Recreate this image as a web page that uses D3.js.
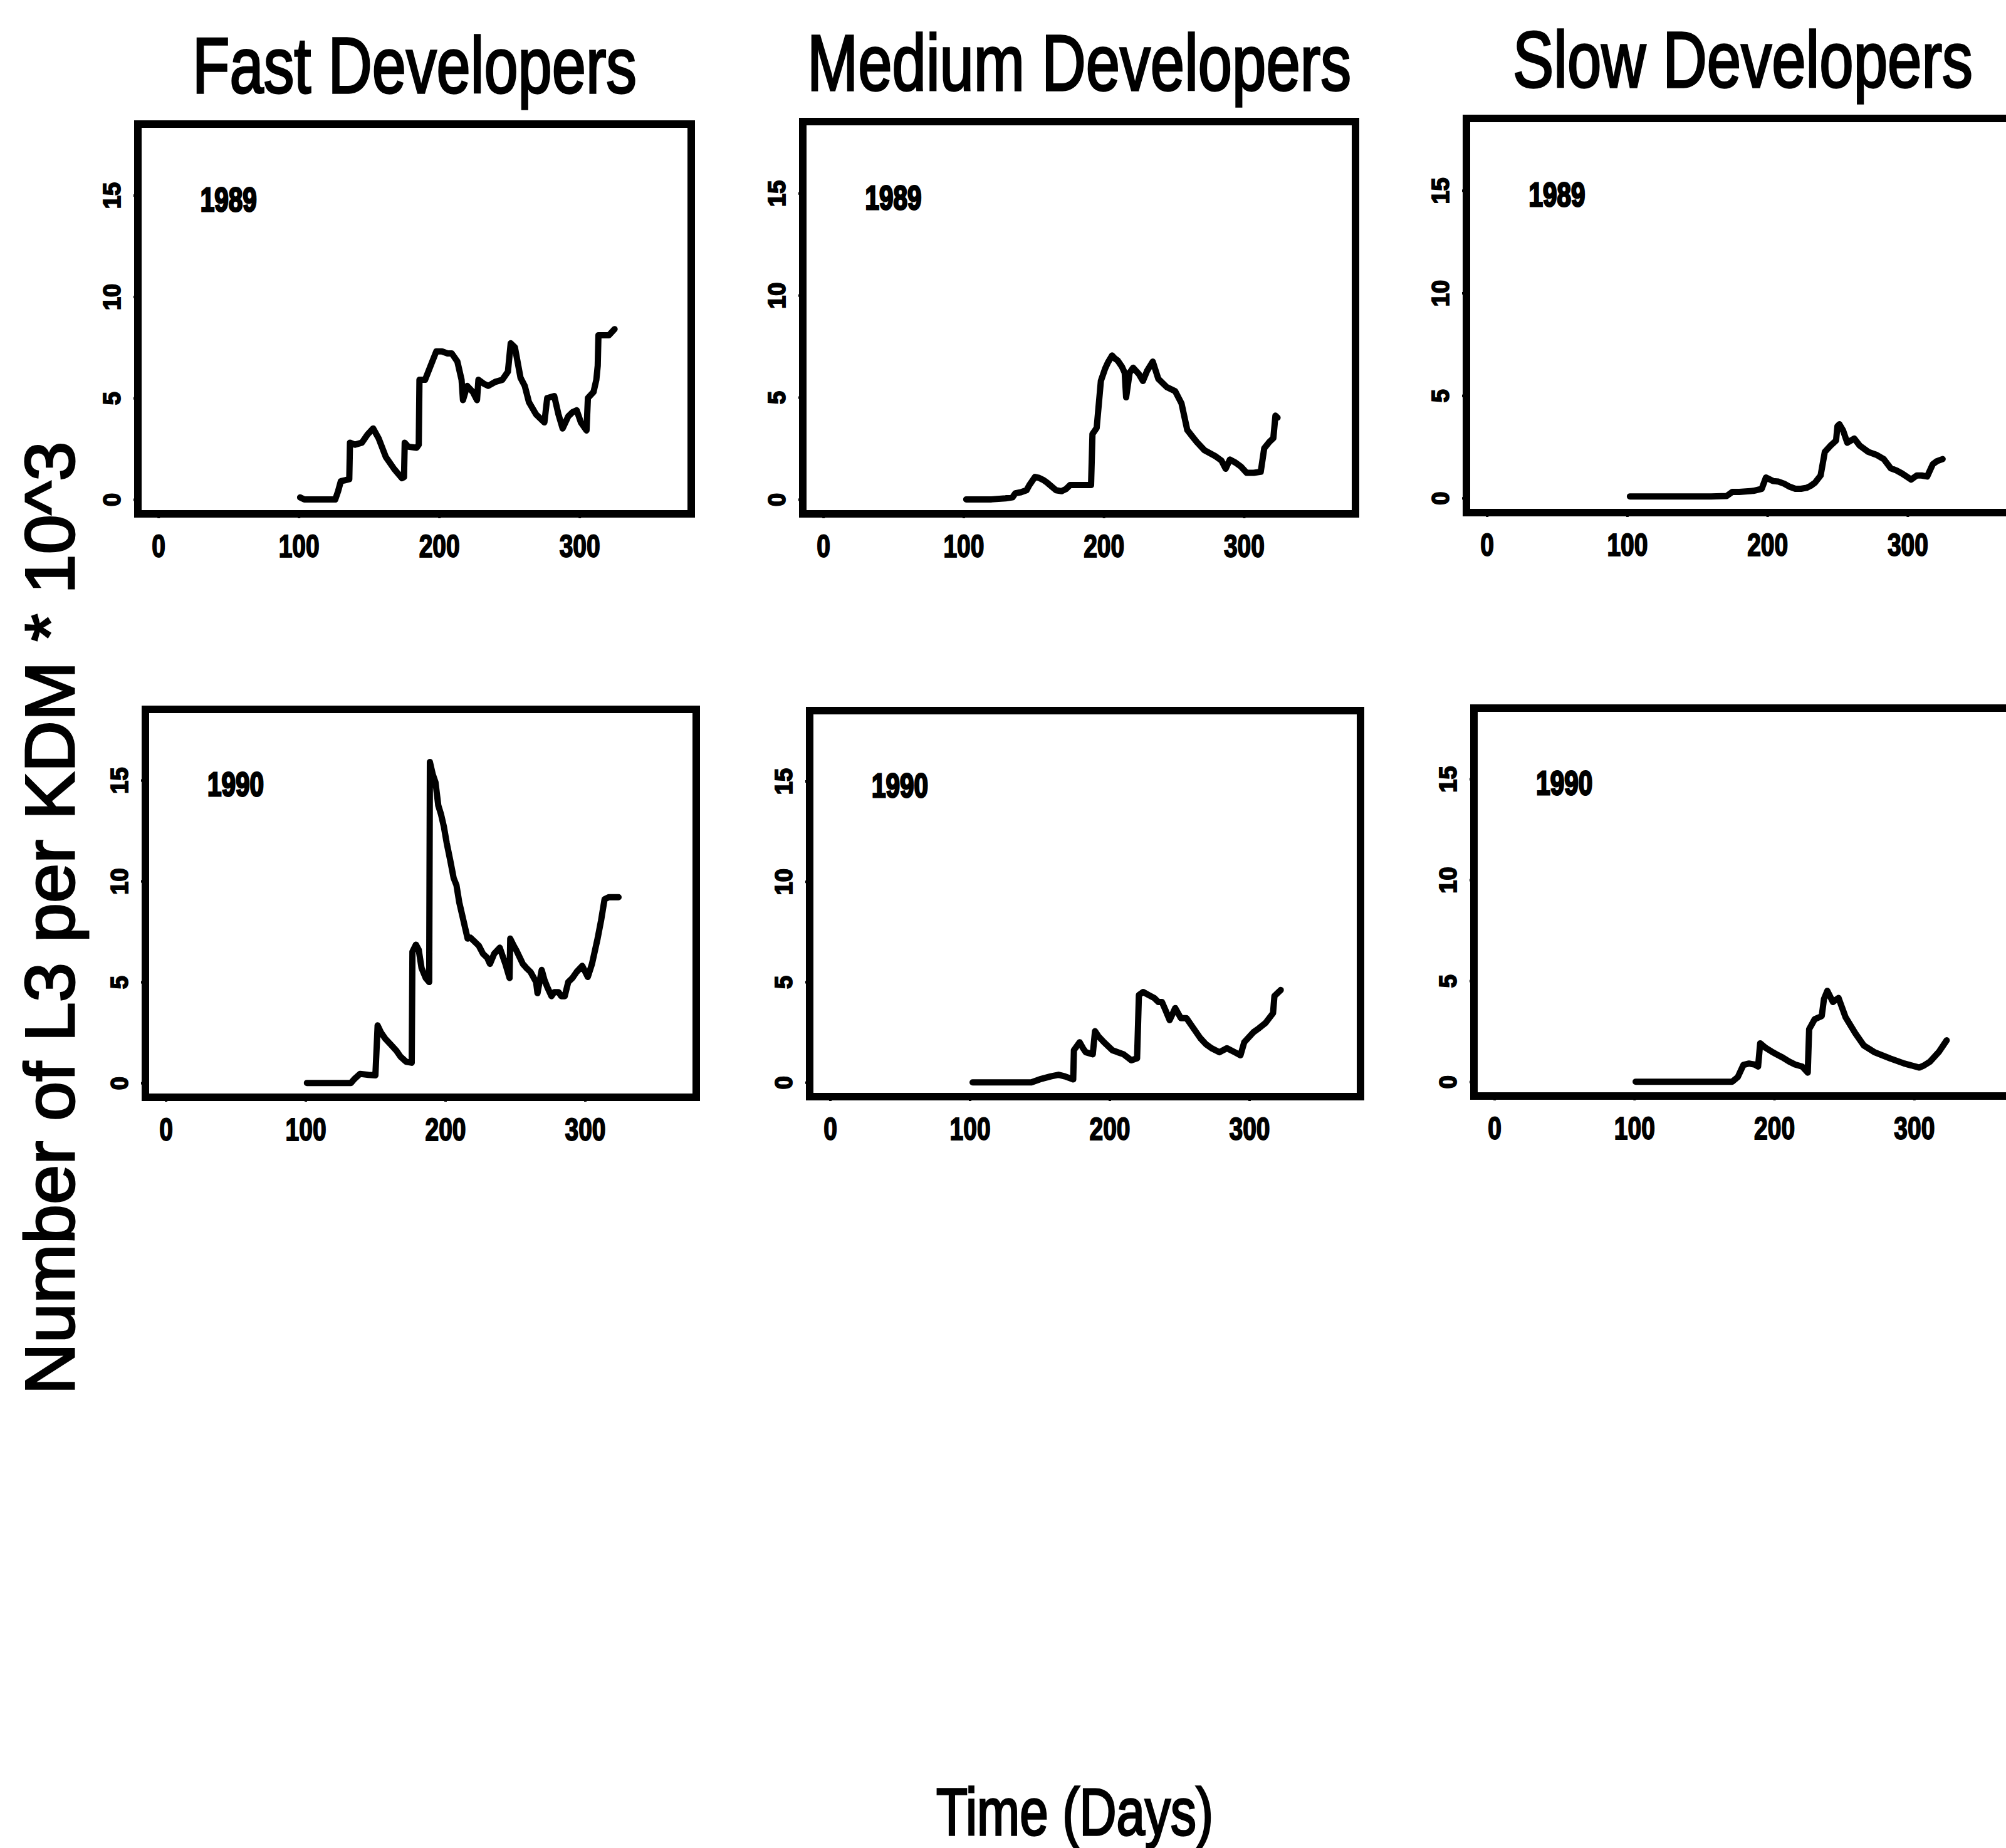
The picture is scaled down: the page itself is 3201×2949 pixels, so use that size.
<!DOCTYPE html>
<html>
<head>
<meta charset="utf-8">
<script src="https://cdn.jsdelivr.net/npm/d3@7/dist/d3.min.js"></script>
<style>
  body { margin: 0; background: #fff; }
  svg { display: block; }
</style>
</head>
<body>
<div id="chart"></div>
<script>
// ---- data ----
const groups = ['Fast Developers', 'Medium Developers', 'Slow Developers']
const years = ['1989', '1990']
const xTicks = [0, 100, 200, 300]
const yTicks = [0, 5, 10, 15]

// 1989 row
const fast89Days = [101, 104, 110, 118, 126, 128, 130, 133, 136, 136.5, 140, 145, 149, 153, 157, 162, 168, 173.5, 175, 175.5, 178, 184, 185.5, 186, 190, 194, 198, 202, 206, 209, 213, 216, 217, 220, 224, 227, 228, 232, 235, 240, 245, 249, 251, 254, 258, 261, 264, 269, 275, 277, 282, 285, 288, 292, 295, 298, 301, 305, 306, 310, 312, 313, 313.5, 317, 321, 325]
const fast89Vals = [0.1, 0, 0, 0, 0, 0.4, 0.9, 0.95, 1.0, 2.8, 2.7, 2.8, 3.2, 3.5, 3.0, 2.1, 1.5, 1.05, 1.1, 2.8, 2.6, 2.55, 2.7, 5.9, 5.9, 6.6, 7.3, 7.3, 7.2, 7.2, 6.8, 5.9, 4.9, 5.6, 5.3, 4.9, 5.9, 5.7, 5.6, 5.8, 5.9, 6.3, 7.7, 7.5, 6.0, 5.6, 4.8, 4.2, 3.8, 5.0, 5.1, 4.2, 3.5, 4.1, 4.3, 4.4, 3.8, 3.4, 5.0, 5.3, 5.9, 6.6, 8.1, 8.1, 8.1, 8.4]

const med89Days = [102, 110, 120, 130, 135, 137, 141, 145, 147, 151, 154, 157, 160, 166, 170, 173, 176, 185, 191, 192, 195, 198, 201, 203, 206, 208, 210, 213, 215, 216, 218.5, 221, 225, 228, 231, 235, 239, 245, 251, 255.5, 259.6, 263, 266.5, 272, 280, 284, 287, 290, 294, 298, 302, 307, 312, 314.5, 318, 321, 322.5, 324]
const med89Vals = [0.0, 0.0, 0.0, 0.05, 0.1, 0.3, 0.35, 0.45, 0.7, 1.1, 1.05, 0.95, 0.8, 0.45, 0.4, 0.5, 0.7, 0.7, 0.7, 3.2, 3.5, 5.8, 6.4, 6.7, 7.05, 6.9, 6.8, 6.5, 6.2, 5.0, 6.2, 6.45, 6.15, 5.8, 6.3, 6.75, 5.9, 5.5, 5.3, 4.7, 3.4, 3.1, 2.8, 2.4, 2.1, 1.9, 1.5, 1.95, 1.8, 1.6, 1.3, 1.3, 1.35, 2.5, 2.8, 3.0, 4.1, 4.0]

const slow89Days = [102, 120, 140, 160, 171, 175, 180, 190, 196, 199, 204, 208, 212, 216, 220, 224, 228, 231, 234, 238, 241, 245, 249, 250, 251.4, 254, 257, 262, 266, 272, 278, 283, 288, 292, 296, 302.6, 306.6, 310, 314, 318, 321, 325]
const slow89Vals = [0.08, 0.08, 0.08, 0.08, 0.1, 0.3, 0.3, 0.35, 0.45, 1.0, 0.83, 0.8, 0.7, 0.55, 0.45, 0.45, 0.5, 0.6, 0.75, 1.1, 2.25, 2.55, 2.8, 3.5, 3.6, 3.3, 2.7, 2.9, 2.55, 2.25, 2.1, 1.9, 1.45, 1.35, 1.2, 0.9, 1.1, 1.1, 1.05, 1.65, 1.8, 1.9]

// 1990 row
const fast90Days = [101, 110, 120, 132.5, 135, 139, 145, 150, 151.6, 154, 157, 161, 165, 168, 172, 176, 176.5, 179, 181, 183, 186, 188.5, 189, 191, 193, 195, 197, 199, 201, 203.5, 206, 208, 210, 213, 216, 218, 221, 224, 227, 230, 232, 235, 239, 243, 246, 246.5, 249, 251, 255.5, 258, 261, 265, 266, 269, 271, 273, 276, 278, 281, 283, 285.5, 288, 291, 294, 298, 302, 305, 309, 311.5, 314, 317, 320, 324]
const fast90Vals = [0, 0, 0, 0, 0.2, 0.45, 0.4, 0.38, 2.85, 2.5, 2.2, 1.9, 1.6, 1.3, 1.05, 1.0, 6.5, 6.85, 6.6, 5.7, 5.2, 5.0, 15.9, 15.3, 14.9, 13.75, 13.3, 12.7, 11.9, 11.05, 10.15, 9.8, 8.95, 8.05, 7.15, 7.2, 7.0, 6.8, 6.4, 6.2, 5.9, 6.4, 6.7, 5.9, 5.2, 7.15, 6.8, 6.55, 5.9, 5.7, 5.5, 5.0, 4.45, 5.6, 5.1, 4.75, 4.3, 4.5, 4.5, 4.3, 4.3, 5.0, 5.2, 5.5, 5.8, 5.25, 5.9, 7.15, 8.05, 9.1, 9.2, 9.2, 9.2]

const med90Days = [102, 120, 140, 144, 150, 158, 163.5, 168, 172, 174, 174.5, 178.6, 181, 183, 188, 189.6, 192, 196, 202, 206, 210, 215.6, 219.7, 221, 224, 228, 232, 235, 237.5, 240, 243, 245, 247, 251, 255, 259, 265, 269, 273, 278.6, 284, 289.6, 293.7, 296.4, 303, 307, 311.5, 317, 318, 322.5]
const med90Vals = [0, 0, 0, 0, 0.15, 0.3, 0.38, 0.3, 0.2, 0.15, 1.6, 2.0, 1.7, 1.5, 1.4, 2.55, 2.3, 2.0, 1.6, 1.5, 1.4, 1.1, 1.2, 4.35, 4.5, 4.35, 4.2, 4.0, 4.0, 3.6, 3.1, 3.4, 3.7, 3.2, 3.2, 2.8, 2.2, 1.9, 1.7, 1.5, 1.7, 1.5, 1.35, 2.0, 2.5, 2.7, 2.95, 3.45, 4.3, 4.6]

const slow90Days = [101, 120, 140, 160, 170, 174, 178, 182, 186, 188.5, 190, 194, 198, 201.6, 206, 210.7, 215, 220, 224, 225, 229, 234, 235.6, 238, 242, 246, 251, 258, 264, 272, 283, 293, 303.7, 307, 311.5, 318, 323.3]
const slow90Vals = [0, 0, 0, 0, 0, 0.23, 0.83, 0.9, 0.85, 0.75, 1.9, 1.67, 1.5, 1.36, 1.2, 1.0, 0.85, 0.75, 0.45, 2.6, 3.1, 3.25, 4.1, 4.5, 3.95, 4.15, 3.2, 2.4, 1.8, 1.45, 1.15, 0.9, 0.7, 0.8, 1.0, 1.5, 2.05]

// ---- layout ----
const width = 3201
const height = 2949
// panel frames (scan is slightly skewed, so each frame is placed on its own)
const frames = [
  { left: 220, right: 1103, top: 198, bottom: 820 },
  { left: 1281, right: 2163, top: 194, bottom: 820 },
  { left: 2340, right: 3222, top: 189, bottom: 818 },
  { left: 232, right: 1111, top: 1132, bottom: 1751 },
  { left: 1292, right: 2171, top: 1134, bottom: 1750 },
  { left: 2352, right: 3232, top: 1130, bottom: 1749 }
]
const titleWidths = [709, 868, 734]

const series = [
  d3.zip(fast89Days, fast89Vals), d3.zip(med89Days, med89Vals), d3.zip(slow89Days, slow89Vals),
  d3.zip(fast90Days, fast90Vals), d3.zip(med90Days, med90Vals), d3.zip(slow90Days, slow90Vals)
]

// R-style padded limits: xlim 0..365, ylim 0..17.8 with 4% each side
const xDomain = [-14.6, 379.6]
const yDomain = [-0.71, 18.51]

const font = '"Liberation Sans", Arial, sans-serif'

const svg = d3.select('#chart').append('svg')
  .attr('width', width)
  .attr('height', height)
  .style('font-family', font)

svg.append('rect').attr('width', width).attr('height', height).attr('fill', '#fff')

frames.forEach((f, i) => {
  const x = d3.scaleLinear().domain(xDomain).range([f.left, f.right])
  const y = d3.scaleLinear().domain(yDomain).range([f.bottom, f.top])
  const g = svg.append('g')

  // bottom axis
  const xa = g.append('g')
    .attr('transform', `translate(0,${f.bottom})`)
    .call(d3.axisBottom(x).tickValues(xTicks).tickSize(7).tickPadding(27))
  xa.select('.domain').remove()
  xa.selectAll('line').attr('stroke', '#000').attr('stroke-width', 4)
  xa.selectAll('text')
    .attr('fill', '#000')
    .attr('stroke', '#000')
    .attr('stroke-width', 2)
    .attr('font-size', 50)
    .attr('font-weight', 'bold')
    .attr('font-family', font)
    .attr('transform', 'scale(0.78,1)')

  // left axis, labels parallel to the axis
  const ya = g.append('g')
    .attr('transform', `translate(${f.left},0)`)
    .call(d3.axisLeft(y).tickValues(yTicks).tickSize(7))
  ya.select('.domain').remove()
  ya.selectAll('line').attr('stroke', '#000').attr('stroke-width', 4)
  ya.selectAll('text')
    .attr('x', 0)
    .attr('y', -28)
    .attr('dy', null)
    .attr('text-anchor', 'middle')
    .attr('transform', 'rotate(-90)')
    .attr('fill', '#000')
    .attr('stroke', '#000')
    .attr('stroke-width', 2)
    .attr('font-size', 38)
    .attr('font-weight', 'bold')
    .attr('font-family', font)

  // the curve
  g.append('path')
    .datum(series[i])
    .attr('fill', 'none')
    .attr('stroke', '#000')
    .attr('stroke-width', 10)
    .attr('stroke-linejoin', 'round')
    .attr('stroke-linecap', 'round')
    .attr('d', d3.line().x(d => x(d[0])).y(d => y(d[1])))

  // year tag
  g.append('text')
    .attr('x', x(50))
    .attr('y', y(15))
    .attr('dy', '0.47em')
    .attr('text-anchor', 'middle')
    .attr('font-size', 54)
    .attr('font-weight', 'bold')
    .attr('stroke', '#000')
    .attr('stroke-width', 3)
    .attr('textLength', 90)
    .attr('lengthAdjust', 'spacingAndGlyphs')
    .text(years[Math.floor(i / 3)])

  // frame
  g.append('rect')
    .attr('x', f.left)
    .attr('y', f.top)
    .attr('width', f.right - f.left)
    .attr('height', f.bottom - f.top)
    .attr('fill', 'none')
    .attr('stroke', '#000')
    .attr('stroke-width', 12)
})

// column titles: narrow face imitated by stretching a smaller font vertically
groups.forEach((name, i) => {
  const f = frames[i]
  svg.append('text')
    .attr('transform', `translate(${(f.left + f.right) / 2},${f.top - 50}) scale(1,1.32)`)
    .attr('text-anchor', 'middle')
    .attr('font-size', 96)
    .attr('stroke', '#000')
    .attr('stroke-width', 2.5)
    .attr('textLength', titleWidths[i])
    .attr('lengthAdjust', 'spacingAndGlyphs')
    .text(name)
})

// outer axis titles
svg.append('text')
  .attr('transform', 'translate(118,1465) rotate(-90)')
  .attr('text-anchor', 'middle')
  .attr('font-size', 112)
  .attr('stroke', '#000')
  .attr('stroke-width', 3)
  .attr('textLength', 1521)
  .attr('lengthAdjust', 'spacingAndGlyphs')
  .text('Number of L3 per KDM * 10^3')

svg.append('text')
  .attr('transform', 'translate(1715,2928) scale(1,1.3)')
  .attr('text-anchor', 'middle')
  .attr('font-size', 81)
  .attr('stroke', '#000')
  .attr('stroke-width', 2.5)
  .attr('textLength', 442)
  .attr('lengthAdjust', 'spacingAndGlyphs')
  .text('Time (Days)')
</script>
</body>
</html>
